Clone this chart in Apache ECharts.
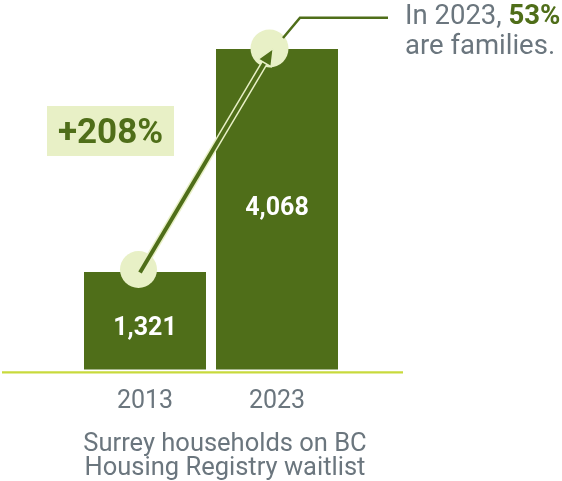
<!DOCTYPE html>
<html>
<head>
<meta charset="utf-8">
<script src="https://cdn.jsdelivr.net/npm/echarts@6/dist/echarts.min.js"></script>
<style>
html,body{margin:0;padding:0;background:#fff;}
#main{width:562px;height:481px;}
</style>
</head>
<body>
<div id="main"></div>
<script>
const categories = ['2013', '2023'];
const households = [1321, 4068];
const changeLabel = '+208%';
const noteYear = '2023';
const familyShare = '53%';
const titleLines = ['Surrey households on BC', 'Housing Registry waitlist'];

const GREEN = '#4f6e19';
const LIGHT = '#e8f0c6';
const GRAY = '#6b767e';
const LIME = '#c8da3c';
const FONT = 'Roboto';

const chart = echarts.init(document.getElementById('main'), null, {renderer: 'canvas'});
const labelOffsets = [[0, 8], [0, -1]];

chart.setOption({
  animation: false,
  backgroundColor: '#fff',
  grid: {left: 79, right: 219, top: 49, bottom: 111.5, containLabel: false},
  title: {
    text: titleLines.join('\n'),
    left: 220, top: 428, textAlign: 'center',
    textStyle: {fontFamily: FONT, fontSize: 25.5, fontWeight: 'normal', color: GRAY, lineHeight: 24}
  },
  xAxis: {
    type: 'category', data: categories,
    axisLine: {show: false}, axisTick: {show: false},
    axisLabel: {fontFamily: FONT, fontSize: 25, color: GRAY, margin: 20}
  },
  yAxis: {type: 'value', min: 120, max: 4068, show: false, splitLine: {show: false}},
  series: [{
    type: 'bar', barWidth: 122, clip: true,
    itemStyle: {color: GREEN},
    data: households.map((v, i) => ({value: v, label: {offset: labelOffsets[i]}})),
    label: {
      show: true, position: 'inside', color: '#fff',
      fontFamily: FONT, fontSize: 25, fontWeight: 'bold',
      formatter: p => p.value.toLocaleString('en-US')
    }
  }]
});

const p0 = chart.convertToPixel({seriesIndex: 0}, [0, households[0]]);
const p1 = chart.convertToPixel({seriesIndex: 0}, [1, households[1]]);
const c0 = [p0[0] - 6.5, p0[1] - 2.5];
const c1 = [p1[0] - 7.5, p1[1] - 0.5];
const a0 = [p0[0] - 5, p0[1] + 0.5];
const tip = [p1[0] - 3.7, p1[1] - 0.7];
const dx = tip[0] - a0[0], dy = tip[1] - a0[1];
const len = Math.hypot(dx, dy);
const ux = dx / len, uy = dy / len;
const nx = -uy, ny = ux;
const headLen = 17, headHalf = 7.5;
const base = [tip[0] - ux * headLen, tip[1] - uy * headLen];
const shaftEnd = [tip[0] - ux * (headLen - 3), tip[1] - uy * (headLen - 3)];
const head = [
  tip,
  [base[0] + nx * headHalf, base[1] + ny * headHalf],
  [base[0] - nx * headHalf, base[1] - ny * headHalf]
];
const baseLeft = chart.convertToPixel({gridIndex: 0}, [0, 120]);

chart.setOption({
  graphic: [
    {type: 'line', shape: {x1: 2, y1: baseLeft[1] + 2.8, x2: 403, y2: baseLeft[1] + 2.8},
     style: {stroke: LIME, lineWidth: 2.2}, z: 10},
    {type: 'circle', shape: {cx: c0[0], cy: c0[1], r: 18.5}, style: {fill: LIGHT}, z: 10},
    {type: 'circle', shape: {cx: c1[0], cy: c1[1], r: 19}, style: {fill: LIGHT}, z: 10},
    {type: 'line', shape: {x1: a0[0], y1: a0[1], x2: shaftEnd[0], y2: shaftEnd[1]},
     style: {stroke: LIGHT, lineWidth: 7, lineCap: 'butt'}, z: 11},
    {type: 'line', shape: {x1: a0[0], y1: a0[1], x2: shaftEnd[0], y2: shaftEnd[1]},
     style: {stroke: GREEN, lineWidth: 4, lineCap: 'butt'}, z: 12},
    {type: 'polygon', shape: {points: head}, style: {fill: GREEN, stroke: LIGHT, lineWidth: 1.5}, z: 13},
    {type: 'polyline', shape: {points: [[c1[0] + 13.5, c1[1] - 10.5], [c1[0] + 30.5, c1[1] - 30.8], [388, c1[1] - 30.8]]},
     style: {stroke: GREEN, lineWidth: 2.5, fill: null}, z: 10},
    {type: 'rect', shape: {x: 47, y: 106, width: 127, height: 50}, style: {fill: LIGHT}, z: 10},
    {type: 'text', x: 110.5, y: 134, z: 11,
     style: {text: changeLabel, fontFamily: FONT, fontSize: 35, fontWeight: 'bold', fill: GREEN,
             align: 'center', verticalAlign: 'middle'}},
    {type: 'text', x: 405, y: 2.5, z: 11,
     style: {
       text: '{a|In ' + noteYear + ', }{b|' + familyShare + '}\n{a|are families.}',
       fontFamily: FONT, fontSize: 27.5, lineHeight: 30, fill: GRAY, align: 'left', verticalAlign: 'top',
       rich: {
         a: {fontFamily: FONT, fontSize: 27.5, lineHeight: 30, fill: GRAY, color: GRAY},
         b: {fontFamily: FONT, fontSize: 27.5, lineHeight: 30, fontWeight: 'bold', fill: GREEN, color: GREEN}
       }
     }}
  ]
});
</script>
</body>
</html>
